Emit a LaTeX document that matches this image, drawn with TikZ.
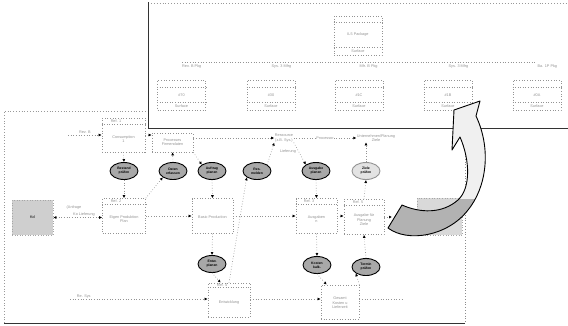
\documentclass[tikz,border=0pt]{standalone}
\usepackage{fontspec}
\setmainfont{Liberation Sans}
\usetikzlibrary{arrows.meta,shapes.geometric,calc}
\begin{document}
\begin{tikzpicture}[x=1pt,y=-1pt,font=\fontsize{3.8}{4.4}\selectfont]
\tikzset{
 boxs/.style={draw=gray!85, dotted, line width=0.65pt, inner sep=1pt, align=center, fill=white},
 gbox/.style={draw=gray!70, dotted, line width=0.6pt, fill=gray!38, inner sep=1pt},
 elli/.style={ellipse, draw=black, line width=0.9pt, fill=gray!68, minimum width=28pt, minimum height=17pt, inner sep=0pt, align=center, text=black, font=\fontsize{3.4}{3.9}\selectfont\bfseries},
 lelli/.style={elli, fill=gray!22, draw=gray!85},
 tlab/.style={text=gray!85, align=center, inner sep=0.5pt},
 conn/.style={draw=gray!85, dotted, line width=0.65pt, -{Latex[length=3pt,width=3pt,black]}},
 plain/.style={draw=gray!85, dotted, line width=0.65pt},
 hdr/.style={draw=gray!85, dotted, line width=0.55pt},
}
\useasboundingbox (0,0) rectangle (568,325);
\fill[white] (0,0) rectangle (568,325);
% main panel frame
\draw[dotted, gray!80, line width=0.8pt] (4,323) -- (4,111) -- (148,111);
\draw[dotted, gray!90, line width=0.8pt] (465,128) -- (465,323);
\draw[black!80, line width=0.8pt] (4,323) -- (465,323);

% ---------- row 1 ----------
\node[boxs, minimum width=43pt, minimum height=34pt] (b1) at (123.5,135) {};
\draw[hdr] ($(b1.north west)+(0,7)$) -- ($(b1.north east)+(0,7)$);
\node[tlab] (b1h) at (116,121.5) {Ref. 1};
\node[tlab] (b1t) at (123.5,139) {Consumption\\1};
\coordinate (inA) at (68,135);
\draw[conn] (inA) -- node[tlab, above=0.3pt, pos=0.5] {Rev. B} (b1.west |- inA);

\node[boxs, minimum width=41pt, minimum height=19pt] (b2) at (172.5,142.5) {};
\node[tlab] (b2t) at (172.5,142) {Processes\\Firmendaten};
\draw[conn] (b1.east |- inA) -- (b2.west |- inA);

\node[tlab] (res) at (284,138) {Ressource\\(z.B. Sys.)};
\node[tlab] (unt) at (376,138) {Unternehmen/Planung\\Ziele};
\draw[conn] (b2.east |- res.west) -- (res.west);
\draw[conn] (res.east) -- node[tlab, fill=white] {Processor} (unt.west);

% ---------- row 2 ellipses ----------
\node[elli] (e1) at (124,171) {Bestand\\pr\"ufen};
\node[elli] (e2) at (173,171) {Daten\\erfassen};
\node[elli] (e3) at (212,171) {Auftrag\\planen};
\node[elli] (e4) at (257,171) {Res.\\melden};
\node[elli] (e5) at (316,171) {Ausgabe\\planen};
\node[lelli] (e6) at (366,171) {Ziele\\pr\"ufen};

% ---------- row 3 ----------
\node[gbox, minimum width=41pt, minimum height=35pt, text=black] (kd) at (32.5,217.5) {Kd};
\node[boxs, minimum width=43pt, minimum height=35pt] (b3a) at (124,216) {};
\draw[hdr] ($(b3a.north west)+(0,6)$) -- ($(b3a.north east)+(0,6)$);
\node[tlab] (b3ah) at (116,201.5) {Ref. 2};
\node[tlab] (b3at) at (124,219) {Eigen Produktion\\Plan};
\node[boxs, minimum width=41pt, minimum height=35pt] (b3b) at (212.5,216) {};
\node[tlab] (b3bt) at (212.5,217) {Basic Production};
\node[boxs, minimum width=41pt, minimum height=35pt] (b3c) at (316.5,216) {};
\draw[hdr] ($(b3c.north west)+(0,6)$) -- ($(b3c.north east)+(0,6)$);
\node[tlab] (b3ch) at (309,201.5) {Ref. 3};
\node[tlab] (b3ct) at (316.5,219) {Ausgaben\\n};
\node[boxs, minimum width=40pt, minimum height=35pt] (b3d) at (364,217) {};
\draw[hdr] ($(b3d.north west)+(0,6)$) -- ($(b3d.north east)+(0,6)$);
\node[tlab] (b3dh) at (358,202.5) {Ref. 5};
\node[tlab] (b3dt) at (364,220) {Ausgabe f\"ur\\Planung\\Ziele};
\node[gbox, minimum width=45pt, minimum height=37pt, fill=gray!30] (gb) at (439.5,216.5) {};

\draw[conn, {Latex[length=3pt,width=3pt,black]}-{Latex[length=3pt,width=3pt,black]}] (kd.east) -- (kd.east -| b3a.west);
\node[tlab] (anf) at (74,208) {(Anfrage};
\node[tlab] (kol) at (84,215) {Ko Lieferung};
\draw[conn] (b3a.east) -- (b3b.west);
\draw[conn] (b3b.east) -- (b3c.west);
\draw[conn] (b3c.east) -- (b3c.east -| b3d.west);
\coordinate (tailpt) at (392,217);
\draw[conn] (b3d.east) -- (tailpt);

% row 1-2-3 connections
\draw[conn] (b1.south) -- (e1.north);
\draw[conn] (e1.south) -- (b3a.north);
\draw[conn] (b3a.north east) -- (e2.south west);
\draw[conn] (e2.north) -- (b2.south);
\draw[conn] (b2.south east) -- (e3.north west);
\draw[conn] (e3.south) -- (b3b.north);
\draw[conn] (e4.north east) -- (res.south west);
\node[tlab] (lief) at (288,152) {Lieferung};
\draw[conn] (res.south east) -- (e5.north west);
\draw[conn] (e5.south) -- (b3c.north);
\draw[conn] (e6.north) -- (unt.south -| e6.north);
\draw[conn] (b3d.north) -- (e6.south);

% ---------- row 4 ----------
\node[elli] (e7) at (212,264) {Entw.\\planen};
\node[elli] (e8) at (317,265) {Kosten\\kalk.};
\node[elli] (e9) at (366,267) {Termin\\pr\"ufen};
\node[boxs, minimum width=42pt, minimum height=34pt] (b4a) at (229,300) {};
\draw[hdr] ($(b4a.north west)+(0,5)$) -- ($(b4a.north east)+(0,5)$);
\node[tlab] (b4ah) at (222,285.5) {Ref. 4};
\node[tlab] (b4at) at (229,303) {Entwicklung};
\node[boxs, minimum width=38pt, minimum height=34pt] (b4b) at (340,302) {};
\node[tlab] (b4bt) at (340,303) {Gesamt\\Kosten u\\Lieferzeit};
\coordinate (inB) at (70,299);
\coordinate (outB) at (403,299);
\draw[conn] (inB) -- node[tlab, above=0.3pt, pos=0.1] {Re. Sys} (inB -| b4a.west);
\draw[conn] (b4a.east |- inB) -- (inB -| b4b.west);
\draw[plain] (inB -| b4b.east) -- (outB);
\draw[conn] (b3b.south) -- (e7.north);
\draw[conn] (e7.south) -- ($(b4a.north west)+(13,0)$);
\draw[conn] (b4a.north) -- (e4.south west);
\draw[conn] (b3c.south) -- (e8.north);
\draw[conn] (e8.south) -- ($(b4b.north west)+(6,0)$);
\draw[conn] (e9.north) -- (b3d.south);
\draw[conn] (b4b.north east) -- (e9.south west);

% ---------- top panel ----------
\fill[white] (148,2) rectangle (568,128);
\draw[dotted, gray!80, line width=0.9pt] (148,3.5) -- (568,3.5);
\draw[black!80, line width=0.8pt] (148,2) -- (148,128) -- (568,128);

\node[boxs, minimum width=48pt, minimum height=39pt] (tc) at (358,35.5) {};
\draw[hdr] ($(tc.north west)+(0,7)$) -- ($(tc.north east)+(0,7)$);
\draw[hdr] ($(tc.south west)+(0,-8)$) -- ($(tc.south east)+(0,-8)$);
\node[tlab] (tct) at (358,35) {IL5 Package};
\node[tlab] (tcb) at (358,51) {Surface};

\coordinate (busL) at (182,62);
\coordinate (busR) at (537,62);
\draw[plain] (busL) -- (busR);

\foreach \n/\x/\lab/\txt in {1/181.5/Rev. B Pkg/\#70, 2/271/Sys. 3 Mfrg/\#30, 3/359/Mfr. B Pkg/\#1C, 4/448/Sys. 3 Mfrg/\#1B, 5/537/Ba. 1P Pkg/\#0A}{
  \node[boxs, minimum width=48pt, minimum height=30pt] (s\n) at (\x,95) {};
  \draw[hdr] ($(s\n.north west)+(0,8)$) -- ($(s\n.north east)+(0,8)$);
  \draw[hdr] ($(s\n.south west)+(0,-8)$) -- ($(s\n.south east)+(0,-8)$);
  \node[tlab] (s\n t) at (\x,95) {\txt};
  \node[tlab] (s\n b) at (\x,106) {Surface};
  \node[tlab, anchor=west] (s\n l) at ($(s\n.north)+(0,-13)$) {\lab};
}

% ---------- big curved arrow ----------
\def\bigarrow{(388,228) .. controls (408,243) and (448,236) .. (468,210)
 .. controls (486,188) and (492,150) .. (476,116)
 -- (480,101) -- (454,110) -- (452,150) -- (460,137)
 .. controls (470,160) and (471,188) .. (458,200)
 .. controls (442,214) and (420,213) .. (402,205) -- cycle}
\fill[white] \bigarrow;
\begin{scope}
 \clip \bigarrow;
 \fill[gray!12] (440,100) rectangle (500,200);
 \fill[gray!60] (380,199) rectangle (500,250);
\end{scope}
\draw[black, line width=0.9pt, line join=round] \bigarrow;
\end{tikzpicture}
\end{document}
